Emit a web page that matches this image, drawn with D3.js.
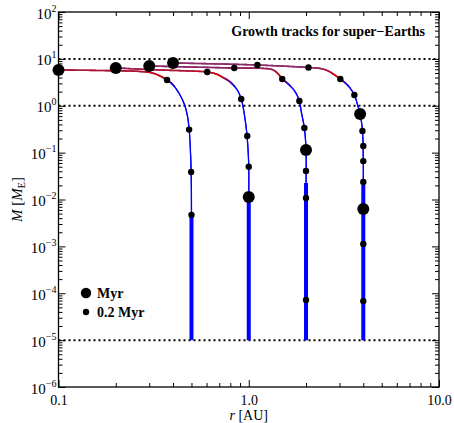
<!DOCTYPE html>
<html><head><meta charset="utf-8">
<script src="https://cdn.jsdelivr.net/npm/d3@7"></script>
<style>
body{margin:0;background:#fff}
svg{display:block}
text{font-family:"Liberation Serif","Times New Roman",serif;fill:#000}
</style>
</head><body>
<svg id="c" width="454" height="423"></svg>
<script>
// ---------------- data ----------------
const title = "Growth tracks for super\u2212Earths";
const xTickValues = [0.1, 1, 10];
const xTickLabels = ["0.1", "1.0", "10.0"];
const yTickExponents = [2, 1, 0, -1, -2, -3, -4, -5, -6];
const refMasses = [10, 1, 1e-5];
const legendLabels = ["Myr", "0.2 Myr"];

// starting orbit of each embryo [AU], seed mass, and mass reached at end of the vertical (pebble) phase
const startR = [0.5, 1.0, 2.0, 4.0];
const seedMass = 1e-5;
const verticalTopM = [5.15e-3, 9.8e-3, 0.0225, 0.0204];

// continued growth + migration tracks: [r AU, M Earth]
const track1 = [[0.5,5.15e-3],[0.498,0.0386],[0.492,0.145],[0.486,0.319],[0.475,0.636],[0.458,1.09],[0.426,1.96],[0.396,2.91],[0.372,3.54],[0.342,4.31],[0.311,5.0],[0.269,5.38],[0.165,5.65],[0.1,5.79]];
const track2 = [[1.0,9.8e-3],[1.0,0.0493],[0.988,0.145],[0.97,0.335],[0.936,0.895],[0.913,1.39],[0.87,2.17],[0.799,3.21],[0.725,4.10],[0.675,4.76],[0.605,5.25],[0.492,5.51],[0.342,5.79],[0.2,6.4]];
const track3 = [[2.0,0.0225],[2.0,0.114],[1.96,0.335],[1.89,0.736],[1.845,1.26],[1.757,1.96],[1.614,2.91],[1.5,3.72],[1.413,5.0],[1.33,5.93],[1.22,6.23],[0.839,6.39],[0.492,6.71],[0.3,7.05]];
const track4 = [[4.0,0.0204],[4.0,0.0696],[3.96,0.289],[3.85,0.667],[3.72,1.09],[3.59,1.70],[3.34,2.64],[3.03,3.72],[2.78,4.76],[2.62,5.51],[2.38,6.23],[2.06,6.55],[1.65,6.88],[1.11,7.4],[0.708,7.78],[0.4,8.17]];
const tracks = [track1, track2, track3, track4];

// time markers
const dots02 = [
  [0.5,4.7e-3],[0.498,0.0386],[0.486,0.31],[0.372,3.54],
  [1.0,0.05],[0.982,0.226],[0.913,1.39],[0.605,5.25],
  [2.0,7.2e-5],[2.0,0.0108],[2.0,0.0405],[1.96,0.335],[1.845,1.26],[1.5,3.72],[0.839,6.39],
  [4.0,6.8e-5],[4.0,1.12e-3],[4.0,0.0236],[4.0,0.066],[4.0,0.138],[3.96,0.289],[3.59,1.70],[3.03,3.72],[2.06,6.55],[1.11,7.4]
];
const dotsMyr = [
  [0.1,5.8],
  [1.0,0.0113],[0.2,6.4],
  [2.0,0.114],[0.3,7.05],
  [4.0,6.3e-3],[3.85,0.667],[0.4,8.2]
];

// ---------------- chart ----------------
const m = {l:58.5, r:439, t:12, b:387};
const x = d3.scaleLog().domain([0.1, 10]).range([m.l, m.r]);
const y = d3.scaleLog().domain([1e-6, 1e2]).range([m.b, m.t]);
const svg = d3.select("#c");

// track colour by mass
const col = d3.scaleLinear().domain([0, 2.6, 4.3, 5.3, 6.6]).range(["#0000ff","#0000ff","#d00000","#b8102a","#8c2a6a"]).clamp(true);

// reference dotted lines
svg.append("g").selectAll("line").data(refMasses).join("line")
  .attr("x1", m.l).attr("x2", m.r).attr("y1", d => y(d)).attr("y2", d => y(d))
  .attr("stroke", "#000").attr("stroke-width", 2).attr("stroke-dasharray", "2,3");

// vertical thick growth phase
svg.append("g").selectAll("line").data(startR).join("line")
  .attr("x1", d => x(d)).attr("x2", d => x(d))
  .attr("y1", y(seedMass)).attr("y2", (d,i) => y(verticalTopM[i]))
  .attr("stroke", "#0000ff").attr("stroke-width", 4);

// tracks, coloured along length
const line = d3.line().x(d => x(d[0])).y(d => y(d[1])).curve(d3.curveCatmullRom.alpha(0.5));
const tg = svg.append("g");
tracks.forEach(t => {
  const p = tg.append("path").attr("d", line(t)).attr("fill", "none").attr("stroke", "none");
  const node = p.node();
  const L = node.getTotalLength();
  const step = 1;
  let prev = node.getPointAtLength(0);
  for (let s = step; s <= L + step; s += step) {
    const pt = node.getPointAtLength(Math.min(s, L));
    const mm = y.invert((prev.y + pt.y) / 2);
    tg.append("line").attr("x1", prev.x).attr("y1", prev.y).attr("x2", pt.x).attr("y2", pt.y)
      .attr("stroke", col(mm)).attr("stroke-width", mm > 2.6 ? 1.6 : 1.3).attr("stroke-linecap", "round");
    prev = pt;
  }
  p.remove();
});

// dots
svg.append("g").selectAll("circle").data(dots02).join("circle")
  .attr("cx", d => x(d[0])).attr("cy", d => y(d[1])).attr("r", 3.2).attr("fill", "#000");
svg.append("g").selectAll("circle").data(dotsMyr).join("circle")
  .attr("cx", d => x(d[0])).attr("cy", d => y(d[1])).attr("r", 6).attr("fill", "#000");

// axes
const xMinor = [], yMinor = [];
[0.1, 1].forEach(b => { for (let k = 2; k <= 9; k++) xMinor.push(b * k); });
yTickExponents.slice(1).forEach(e => { for (let k = 2; k <= 9; k++) yMinor.push(Math.pow(10, e) * k); });
const yMajor = yTickExponents.map(e => Math.pow(10, e));

function styleAxis(g){ g.select(".domain").remove(); g.selectAll("line").attr("stroke","#000").attr("stroke-width",1); }

svg.append("g").attr("transform", `translate(0,${m.b})`)
  .call(d3.axisBottom(x).tickValues(xTickValues).tickSize(-7).tickPadding(8).tickFormat((d,i) => xTickLabels[i]))
  .call(styleAxis)
  .call(g => g.selectAll("text").attr("font-size", 14).attr("font-family", '"Liberation Serif",serif'));
svg.append("g").attr("transform", `translate(0,${m.b})`)
  .call(d3.axisBottom(x).tickValues(xMinor).tickSize(-4).tickFormat("")).call(styleAxis);
svg.append("g").attr("transform", `translate(0,${m.t})`)
  .call(d3.axisTop(x).tickValues(xTickValues).tickSize(-7).tickFormat("")).call(styleAxis);
svg.append("g").attr("transform", `translate(0,${m.t})`)
  .call(d3.axisTop(x).tickValues(xMinor).tickSize(-4).tickFormat("")).call(styleAxis);

const yl = svg.append("g").attr("transform", `translate(${m.l},0)`)
  .call(d3.axisLeft(y).tickValues(yMajor).tickSize(-7).tickFormat("")).call(styleAxis);
svg.append("g").attr("transform", `translate(${m.l},0)`)
  .call(d3.axisLeft(y).tickValues(yMinor).tickSize(-4).tickFormat("")).call(styleAxis);
svg.append("g").attr("transform", `translate(${m.r},0)`)
  .call(d3.axisRight(y).tickValues(yMajor).tickSize(-7).tickFormat("")).call(styleAxis);
svg.append("g").attr("transform", `translate(${m.r},0)`)
  .call(d3.axisRight(y).tickValues(yMinor).tickSize(-4).tickFormat("")).call(styleAxis);

// y tick labels with superscripts
yl.selectAll(".tick").each(function(d, i){
  const e = yTickExponents[i];
  const t = d3.select(this).append("text").attr("x", -2).attr("y", 6).attr("text-anchor", "end")
    .attr("font-size", 15).attr("fill", "#000");
  t.append("tspan").text("10");
  t.append("tspan").attr("font-size", 10).attr("dy", -7).text(e < 0 ? "\u2212" + (-e) : String(e));
});

// frame
svg.append("rect").attr("x", m.l).attr("y", m.t).attr("width", m.r - m.l).attr("height", m.b - m.t)
  .attr("fill", "none").attr("stroke", "#000").attr("stroke-width", 1.3);

// axis titles
const xt = svg.append("text").attr("x", (m.l + m.r) / 2).attr("y", 420).attr("text-anchor", "middle").attr("font-size", 14);
xt.append("tspan").attr("font-style", "italic").text("r");
xt.append("tspan").text(" [AU]");
const ytl = svg.append("text").attr("transform", `translate(22,${(m.t + m.b) / 2}) rotate(-90)`).attr("text-anchor", "middle").attr("font-size", 15);
ytl.append("tspan").attr("font-style", "italic").text("M");
ytl.append("tspan").text(" [");
ytl.append("tspan").attr("font-style", "italic").text("M");
ytl.append("tspan").attr("font-size", 10).attr("dy", 3).text("E");
ytl.append("tspan").attr("dy", -3).text("]");

// title
svg.append("text").attr("x", 425).attr("y", 36).attr("text-anchor", "end")
  .attr("font-size", 14).attr("font-weight", "bold").text(title);

// legend
const lg = svg.append("g");
const legR = [5.2, 3.2];
legendLabels.forEach((lab, i) => {
  lg.append("circle").attr("cx", 86).attr("cy", 293 + i * 19).attr("r", legR[i]).attr("fill", "#000");
  lg.append("text").attr("x", 97).attr("y", 298 + i * 19).attr("font-size", 14).attr("font-weight", "bold").text(lab);
});
</script>
</body></html>
